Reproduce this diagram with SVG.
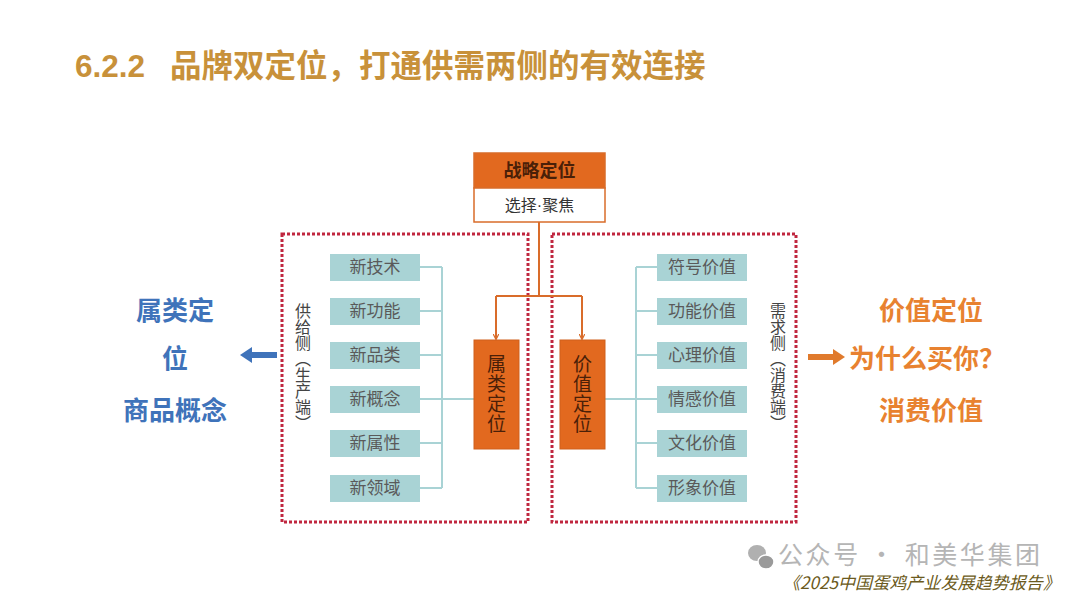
<svg xmlns="http://www.w3.org/2000/svg" width="1080" height="608" viewBox="0 0 1080 608">
<defs>
<style>
.cjk{font-family:"Liberation Sans","Noto Sans CJK SC",sans-serif}
.item{fill:#A9D3D5}
.itxt{font-family:"Noto Sans CJK SC",sans-serif;font-size:17px;fill:#5a5a5a;text-anchor:middle}
.teal{stroke:#A9D3D5;stroke-width:2;fill:none}
.org{stroke:#D96C2A;stroke-width:2;fill:none}
.dash{fill:none;stroke:#C0263F;stroke-width:3;stroke-dasharray:3 2}
.obox{fill:#E2691F;stroke:#D0601C;stroke-width:1}
.vtxt{font-family:"Noto Sans CJK SC",sans-serif;font-size:19px;fill:#4a2008;writing-mode:vertical-rl;letter-spacing:1px}
.side{font-family:"Noto Sans CJK SC",sans-serif;font-size:16px;fill:#444;writing-mode:vertical-rl}
.blue{font-family:"Noto Sans CJK SC",sans-serif;font-size:26px;font-weight:bold;fill:#3F73BA;text-anchor:middle}
.orng{font-family:"Noto Sans CJK SC",sans-serif;font-size:26px;font-weight:bold;fill:#E88230;text-anchor:middle}
</style>
<marker id="ah" viewBox="0 0 10 10" refX="9" refY="5" markerWidth="6" markerHeight="6" orient="auto" markerUnits="userSpaceOnUse">
<path d="M0,0 L10,5 L0,10" fill="none" stroke="#D96C2A" stroke-width="2"/>
</marker>
</defs>
<rect width="1080" height="608" fill="#ffffff"/>
<text x="75" y="77" font-family="'Liberation Sans','Noto Sans CJK SC',sans-serif" font-size="31.5" font-weight="bold" fill="#C8913A"><tspan>6.2.2</tspan><tspan dx="25">品牌双定位，打通供需两侧的有效连接</tspan></text>

<rect class="dash" x="282" y="234" width="246" height="288"/>
<rect class="dash" x="552" y="234" width="244" height="288"/>

<g id="connectors">
<path class="org" d="M539,222 V296"/>
<path class="org" d="M496,296 H582"/>
<path class="org" d="M496,296 V339" marker-end="url(#ah)"/>
<path class="org" d="M582,296 V339" marker-end="url(#ah)"/>
<path class="teal" d="M420,267 H442 M420,311 H442 M420,355 H442 M420,399 H442 M420,443 H442 M420,488 H442 M442,267 V488 M442,399 H474"/>
<path class="teal" d="M636,267 H657 M636,311 H657 M636,355 H657 M636,399 H657 M636,443 H657 M636,488 H657 M636,267 V488 M605,399 H636"/>
</g>

<g id="strategy">
<rect x="474" y="153" width="131" height="35" fill="#E2691F" stroke="#D96C2A" stroke-width="1.5"/>
<rect x="474" y="188" width="131" height="34" fill="#ffffff" stroke="#D96C2A" stroke-width="1.5"/>
<text x="539.5" y="177" class="cjk" font-size="18" text-anchor="middle" fill="#4a2008" font-weight="bold">战略定位</text>
<text x="539.5" y="211" class="cjk" font-size="16" text-anchor="middle" fill="#333">选择·聚焦</text>
</g>

<g id="supply-items">
<rect class="item" x="330" y="254" width="90" height="27"/><text class="itxt" x="375" y="273">新技术</text>
<rect class="item" x="330" y="298" width="90" height="27"/><text class="itxt" x="375" y="317">新功能</text>
<rect class="item" x="330" y="342" width="90" height="27"/><text class="itxt" x="375" y="361">新品类</text>
<rect class="item" x="330" y="386" width="90" height="27"/><text class="itxt" x="375" y="405">新概念</text>
<rect class="item" x="330" y="430" width="90" height="27"/><text class="itxt" x="375" y="449">新属性</text>
<rect class="item" x="330" y="475" width="90" height="27"/><text class="itxt" x="375" y="494">新领域</text>
</g>

<g id="demand-items">
<rect class="item" x="657" y="254" width="90" height="27"/><text class="itxt" x="702" y="273">符号价值</text>
<rect class="item" x="657" y="298" width="90" height="27"/><text class="itxt" x="702" y="317">功能价值</text>
<rect class="item" x="657" y="342" width="90" height="27"/><text class="itxt" x="702" y="361">心理价值</text>
<rect class="item" x="657" y="386" width="90" height="27"/><text class="itxt" x="702" y="405">情感价值</text>
<rect class="item" x="657" y="430" width="90" height="27"/><text class="itxt" x="702" y="449">文化价值</text>
<rect class="item" x="657" y="475" width="90" height="27"/><text class="itxt" x="702" y="494">形象价值</text>
</g>

<g id="category-pos">
<rect class="obox" x="474" y="340" width="45" height="109"/>
<text class="vtxt" x="496.5" y="354">属类定位</text>
</g>
<g id="value-pos">
<rect class="obox" x="560" y="340" width="45" height="109"/>
<text class="vtxt" x="582.5" y="354">价值定位</text>
</g>

<g id="supply-label">
<text class="side" x="303" y="303">供给侧（生产端）</text>
</g>
<g id="demand-label">
<text class="side" x="778" y="303">需求侧（消费端）</text>
</g>

<g id="left-note">
<path d="M277,352 H252 V347 L240,355 L252,363 V358 H277 Z" fill="#3F73BA"/>
<text class="blue" x="175" y="320">属类定</text>
<text class="blue" x="175" y="368">位</text>
<text class="blue" x="175" y="420">商品概念</text>
</g>
<g id="right-note">
<path d="M808,354 H833 V349 L845,357 L833,365 V360 H808 Z" fill="#E07A2C"/>
<text class="orng" x="931" y="320">价值定位</text>
<text class="orng" x="927" y="368">为什么买你？</text>
<text class="orng" x="931" y="420">消费价值</text>
</g>

<g id="watermark">
<ellipse cx="757" cy="553" rx="9" ry="8" fill="#b0b0b0"/>
<ellipse cx="766" cy="562" rx="8" ry="7" fill="#9a9a9a" stroke="#fff" stroke-width="1.5"/>
<text x="778" y="564" font-family="'Noto Sans CJK SC',sans-serif" font-size="25" fill="#b5b5b5" textLength="262" lengthAdjust="spacing">公众号 · 和美华集团</text>
<text x="783" y="589" font-family="'Noto Sans CJK SC',sans-serif" font-size="17" font-style="italic" fill="#6b5a20" textLength="277" lengthAdjust="spacingAndGlyphs">《2025中国蛋鸡产业发展趋势报告》</text>
</g>
</svg>
